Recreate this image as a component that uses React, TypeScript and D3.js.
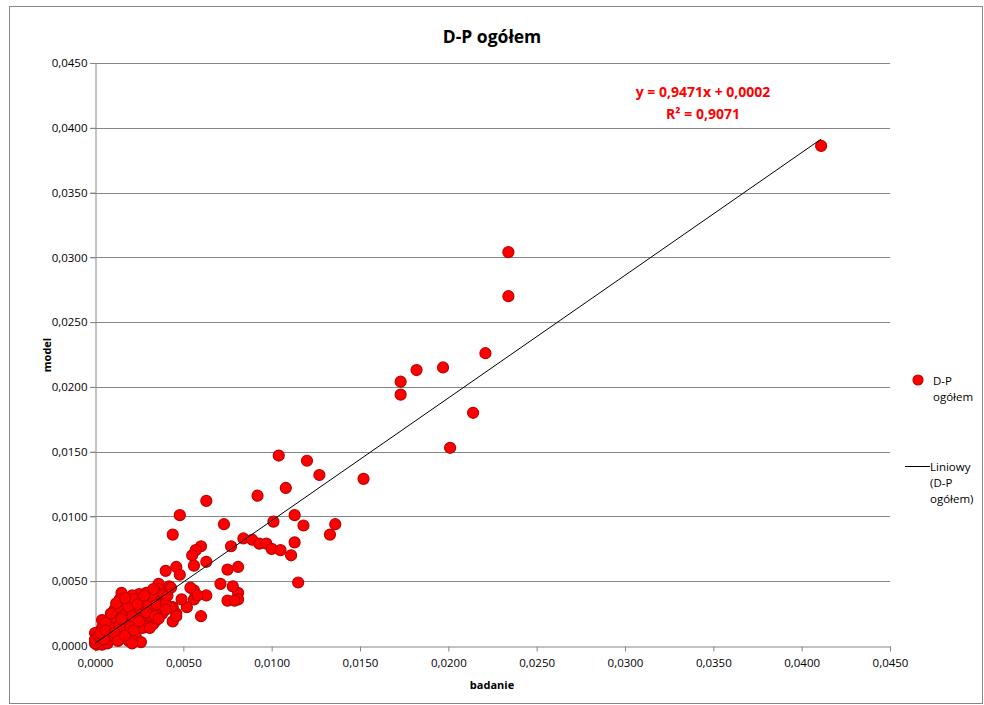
import React, { useEffect, useRef } from 'react';
import * as d3 from 'd3';

// Values: [badanie, model]
const points: [number, number][] = [
  [0.0411, 0.0386], [0.0234, 0.0304], [0.0234, 0.0270], [0.0221, 0.0226],
  [0.0197, 0.0215], [0.0182, 0.0213], [0.0173, 0.0204], [0.0173, 0.0194],
  [0.0214, 0.0180], [0.0201, 0.0153], [0.0152, 0.0129], [0.0104, 0.0147],
  [0.0120, 0.0143], [0.0127, 0.0132], [0.0108, 0.0122], [0.0092, 0.0116],
  [0.0063, 0.0112], [0.0048, 0.0101], [0.0113, 0.0101], [0.0101, 0.0096],
  [0.0136, 0.0094], [0.0073, 0.0094], [0.0118, 0.0093], [0.0133, 0.0086],
  [0.0044, 0.0086], [0.0084, 0.0083], [0.0089, 0.0082], [0.0113, 0.0080],
  [0.0093, 0.0079], [0.0097, 0.0079], [0.0100, 0.0075], [0.0105, 0.0074],
  [0.0111, 0.0070], [0.0077, 0.0077], [0.0060, 0.0077], [0.0057, 0.0074],
  [0.0055, 0.0070], [0.0056, 0.0062], [0.0063, 0.0065], [0.0075, 0.0059],
  [0.0081, 0.0061], [0.0115, 0.0049], [0.0081, 0.0041], [0.0081, 0.0036],
  [0.0071, 0.0048], [0.0078, 0.0046], [0.0075, 0.0035], [0.0079, 0.0035],
  [0.0060, 0.0023], [0.0063, 0.0039], [0.0056, 0.0036], [0.0056, 0.0043],
  [0.0054, 0.0045], [0.0052, 0.0030], [0.0049, 0.0036], [0.0046, 0.0025],
  [0.0044, 0.0019], [0.0040, 0.0058], [0.0046, 0.0061], [0.0048, 0.0055],
  [0.0044, 0.0030], [0.0058, 0.0039],
  [0.0042, 0.0046], [0.0036, 0.0048], [0.0036, 0.0044], [0.0034, 0.0042],
  [0.0029, 0.0041], [0.0025, 0.0040], [0.0021, 0.0039], [0.0015, 0.0041],
  [0.0014, 0.0036], [0.0020, 0.0033], [0.0026, 0.0034], [0.0031, 0.0035],
  [0.0038, 0.0036], [0.0043, 0.0030], [0.0046, 0.0023], [0.0011, 0.0028],
  [0.0016, 0.0027], [0.0022, 0.0029], [0.0028, 0.0028], [0.0033, 0.0027],
  [0.0036, 0.0028], [0.0034, 0.0019], [0.0029, 0.0018], [0.0024, 0.0017],
  [0.0018, 0.0020], [0.0012, 0.0020], [0.0004, 0.0020], [0.0004, 0.0014],
  [0.0008, 0.0012], [0.0013, 0.0012], [0.0019, 0.0010], [0.0023, 0.0008],
  [0.0027, 0.0014], [0.0033, 0.0017], [0.0026, 0.0003], [0.0000, 0.0010],
  [0.0001, 0.0006], [0.0003, 0.0003], [0.0001, 0.0001], [0.0004, 0.0001],
  [0.0007, 0.0002], [0.0009, 0.0005], [0.0011, 0.0007], [0.0015, 0.0006],
  [0.0019, 0.0004], [0.0021, 0.0002], [0.0006, 0.0008], [0.0002, 0.0004],
  [0.0000, 0.0002], [0.0000, 0.0005], [0.0002, 0.0008], [0.0005, 0.0005],
  [0.0008, 0.0016], [0.0010, 0.0022], [0.0006, 0.0018], [0.0014, 0.0016],
  [0.0016, 0.0013], [0.0020, 0.0015], [0.0017, 0.0024], [0.0013, 0.0030],
  [0.0019, 0.0030], [0.0024, 0.0025], [0.0022, 0.0036], [0.0027, 0.0037],
  [0.0030, 0.0031], [0.0032, 0.0038], [0.0035, 0.0032], [0.0039, 0.0040],
  [0.0040, 0.0033], [0.0038, 0.0025], [0.0031, 0.0023], [0.0026, 0.0021],
  [0.0021, 0.0023], [0.0015, 0.0021], [0.0009, 0.0025], [0.0012, 0.0033],
  [0.0017, 0.0037], [0.0024, 0.0032], [0.0029, 0.0026], [0.0034, 0.0023],
  [0.0041, 0.0039], [0.0043, 0.0045], [0.0033, 0.0044], [0.0028, 0.0039],
  [0.0003, 0.0010], [0.0006, 0.0012], [0.0011, 0.0010], [0.0013, 0.0004],
  [0.0017, 0.0008], [0.0022, 0.0012], [0.0025, 0.0019], [0.0031, 0.0014],
  [0.0036, 0.0021], [0.0040, 0.0028],
];

// linear trend shown in the chart
const slope = 0.9471;
const intercept = 0.0002;
const equationLines = ['y = 0,9471x + 0,0002', 'R² = 0,9071'];

const xTicks = [0, 0.005, 0.01, 0.015, 0.02, 0.025, 0.03, 0.035, 0.04, 0.045];
const yTicks = [0, 0.005, 0.01, 0.015, 0.02, 0.025, 0.03, 0.035, 0.04, 0.045];

const title = 'D-P ogółem';
const xTitle = 'badanie';
const yTitle = 'model';
const seriesLegend = ['D-P', 'ogółem'];
const trendLegend = ['Liniowy', '(D-P', 'ogółem)'];

const W = 984;
const H = 705;
const FONT = '"Open Sans", "Liberation Sans", sans-serif';

const fmt = (v: number) => d3.format('.4f')(v).replace('.', ',');

const App = () => {
  const svgRef = useRef<SVGSVGElement>(null);

  useEffect(() => {
    const svg = d3.select(svgRef.current);
    svg.selectAll('*').remove();

    const plot = { left: 95, right: 890, top: 63, bottom: 646 };

    const x = d3.scaleLinear().domain([0, 0.045]).range([plot.left, plot.right]);
    const y = d3.scaleLinear().domain([0, 0.045]).range([plot.bottom, plot.top]);

    // background + chart border
    svg.append('rect')
      .attr('x', 9.5).attr('y', 6.5)
      .attr('width', W - 11).attr('height', H - 8)
      .attr('fill', '#fff')
      .attr('stroke', '#868686')
      .attr('stroke-width', 1);

    // gridlines
    svg.append('g')
      .selectAll('line')
      .data(yTicks.slice(1))
      .enter()
      .append('line')
      .attr('x1', plot.left - 5)
      .attr('x2', plot.right)
      .attr('y1', d => Math.round(y(d)) + 0.5)
      .attr('y2', d => Math.round(y(d)) + 0.5)
      .attr('stroke', '#868686')
      .attr('stroke-width', 1);

    // x axis
    const xAxis = svg.append('g')
      .attr('transform', `translate(0, ${Math.round(plot.bottom) + 0.5})`)
      .call(d3.axisBottom(x).tickValues(xTicks).tickFormat(d => fmt(d as number)).tickSize(5).tickSizeOuter(0));
    xAxis.select('.domain').attr('stroke', '#868686');
    xAxis.selectAll('.tick line').attr('stroke', '#868686');
    xAxis.selectAll('.tick text')
      .attr('font-family', FONT).attr('font-size', 11.5).attr('fill', '#000').attr('dy', '1.05em');

    // y axis
    const yAxis = svg.append('g')
      .attr('transform', `translate(${plot.left + 0.5}, 0)`)
      .call(d3.axisLeft(y).tickValues(yTicks).tickFormat(d => fmt(d as number)).tickSize(5).tickSizeOuter(0));
    yAxis.select('.domain').attr('stroke', '#868686');
    yAxis.selectAll('.tick line').attr('stroke', '#868686');
    yAxis.selectAll('.tick text')
      .attr('font-family', FONT).attr('font-size', 11.5).attr('fill', '#000').attr('x', -8);

    // points
    svg.append('g')
      .selectAll('circle')
      .data(points)
      .enter()
      .append('circle')
      .attr('cx', d => x(d[0]))
      .attr('cy', d => y(d[1]))
      .attr('r', 5.5)
      .attr('fill', '#ff0000')
      .attr('stroke', '#c00000')
      .attr('stroke-width', 1.2);

    // trend line over the data range
    const [x0, x1] = d3.extent(points, d => d[0]) as [number, number];
    svg.append('line')
      .attr('x1', x(x0)).attr('y1', y(slope * x0 + intercept))
      .attr('x2', x(x1)).attr('y2', y(slope * x1 + intercept))
      .attr('stroke', '#000')
      .attr('stroke-width', 1);

    // title
    svg.append('text')
      .attr('x', 492).attr('y', 43)
      .attr('text-anchor', 'middle')
      .attr('font-family', FONT)
      .attr('font-size', 17.5)
      .attr('font-weight', 'bold')
      .text(title);

    // equation
    svg.append('g')
      .selectAll('text')
      .data(equationLines)
      .enter()
      .append('text')
      .attr('x', 703)
      .attr('y', (d, i) => 97 + i * 22)
      .attr('text-anchor', 'middle')
      .attr('font-family', FONT)
      .attr('font-size', 14)
      .attr('font-weight', 'bold')
      .attr('fill', '#ff0000')
      .text(d => d);

    // axis titles
    svg.append('text')
      .attr('x', 492).attr('y', 689)
      .attr('text-anchor', 'middle')
      .attr('font-family', FONT).attr('font-size', 11).attr('font-weight', 'bold')
      .text(xTitle);

    svg.append('text')
      .attr('transform', 'translate(51, 355) rotate(-90)')
      .attr('text-anchor', 'middle')
      .attr('font-family', FONT).attr('font-size', 11).attr('font-weight', 'bold')
      .text(yTitle);

    // legend
    const legend = svg.append('g').attr('font-family', FONT).attr('font-size', 11.5);
    legend.append('circle')
      .attr('cx', 918).attr('cy', 380).attr('r', 5)
      .attr('fill', '#ff0000').attr('stroke', '#c00000').attr('stroke-width', 1.2);
    legend.selectAll('text.s')
      .data(seriesLegend)
      .enter()
      .append('text')
      .attr('class', 's')
      .attr('x', 933)
      .attr('y', (d, i) => 385 + i * 16)
      .text(d => d);

    legend.append('line')
      .attr('x1', 905).attr('x2', 930)
      .attr('y1', 466.5).attr('y2', 466.5)
      .attr('stroke', '#000').attr('stroke-width', 1);
    legend.selectAll('text.t')
      .data(trendLegend)
      .enter()
      .append('text')
      .attr('class', 't')
      .attr('x', 930)
      .attr('y', (d, i) => 471 + i * 16)
      .text(d => d);
  }, []);

  return (
    <div style={{ position: 'absolute', left: 0, top: 0 }}>
      <svg ref={svgRef} width={W} height={H} style={{ display: 'block' }}></svg>
    </div>
  );
};

export default App;
